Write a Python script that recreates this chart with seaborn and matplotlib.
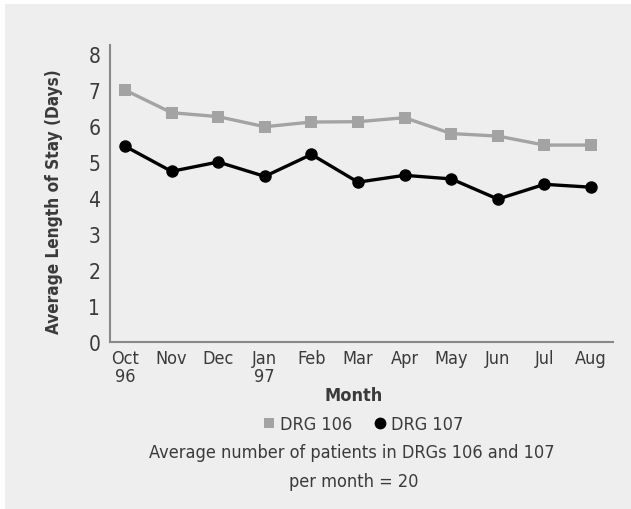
import matplotlib
matplotlib.use("Agg")
import matplotlib.pyplot as plt
from matplotlib.lines import Line2D
from matplotlib.patches import Rectangle
import seaborn as sns
import pandas as pd

months = ["Oct\n96", "Nov", "Dec", "Jan\n97", "Feb", "Mar", "Apr", "May", "Jun", "Jul", "Aug"]
drg106 = [7.0, 6.37, 6.26, 5.98, 6.11, 6.12, 6.23, 5.79, 5.72, 5.47, 5.47]
drg107 = [5.44, 4.74, 5.0, 4.6, 5.21, 4.44, 4.63, 4.53, 3.97, 4.38, 4.30]
yticks = [0, 1, 2, 3, 4, 5, 6, 7, 8]

sns.set_theme(style="white")
plt.rcParams["font.family"] = ["DejaVu Sans"]
plt.rcParams["font.stretch"] = "condensed"

df = pd.DataFrame({
    "idx": list(range(len(months))) * 2,
    "value": drg106 + drg107,
    "series": ["DRG 106"] * len(months) + ["DRG 107"] * len(months),
})

BG = "#eeeeee"
GRAY = "#a3a3a3"
TXT = "#3a3a3a"

fig = plt.figure(figsize=(6.31, 5.10), dpi=100, facecolor="white")
fig.patches.append(Rectangle((5 / 631, 0), 1, 1 - 5 / 510, transform=fig.transFigure,
                             facecolor=BG, edgecolor="none", zorder=-10))
ax = fig.add_axes([110 / 631, 167 / 510, 503 / 631, 297 / 510])
ax.set_facecolor("none")

sns.lineplot(data=df, x="idx", y="value", hue="series", style="series",
             palette={"DRG 106": GRAY, "DRG 107": "black"},
             markers={"DRG 106": "s", "DRG 107": "o"}, dashes=False,
             markersize=9, markeredgewidth=0, linewidth=2.4, legend=False, ax=ax)

ax.set_xlim(-0.32, 10.47)
ax.set_ylim(0, 8.25)
ax.set_xticks(range(len(months)))
ax.set_xticklabels(months, fontsize=13, color=TXT, linespacing=1.0)
ax.set_yticks(yticks)
ax.set_yticklabels([str(v) for v in yticks], fontsize=15, color=TXT)
ax.tick_params(axis="both", direction="in", length=6, width=1, color="#888888")
ax.tick_params(axis="x", pad=5)
ax.tick_params(axis="y", pad=7)
for s in ["top", "right"]:
    ax.spines[s].set_visible(False)
for s in ["left", "bottom"]:
    ax.spines[s].set_color("#888888")
    ax.spines[s].set_linewidth(1.5)

ax.set_xlabel("")
ax.set_ylabel("Average Length of Stay (Days)", fontsize=12.3, fontweight="bold", color=TXT)
ax.yaxis.set_label_coords(-47 / 503, (343 - 202) / 297)

fig.text(354 / 631, 1 - 396 / 510, "Month", ha="center", va="center",
         fontsize=13, fontweight="bold", color=TXT)

handles = [Line2D([], [], linestyle="none", marker="s", markersize=7, color=GRAY, markeredgewidth=0),
           Line2D([], [], linestyle="none", marker="o", markersize=8.5, color="black", markeredgewidth=0)]
fig.legend(handles, ["DRG 106", "DRG 107"], loc="center", bbox_to_anchor=(362 / 631, 1 - 425 / 510),
           ncol=2, frameon=False, fontsize=13, handletextpad=0.1, columnspacing=1.05,
           handlelength=1.0, labelcolor=TXT)

fig.text(352 / 631, 1 - 453 / 510, "Average number of patients in DRGs 106 and 107",
         ha="center", va="center", fontsize=13, color=TXT)
fig.text(354 / 631, 1 - 482 / 510, "per month = 20",
         ha="center", va="center", fontsize=13, color=TXT)

fig.savefig("out.png", dpi=100, facecolor="white")
